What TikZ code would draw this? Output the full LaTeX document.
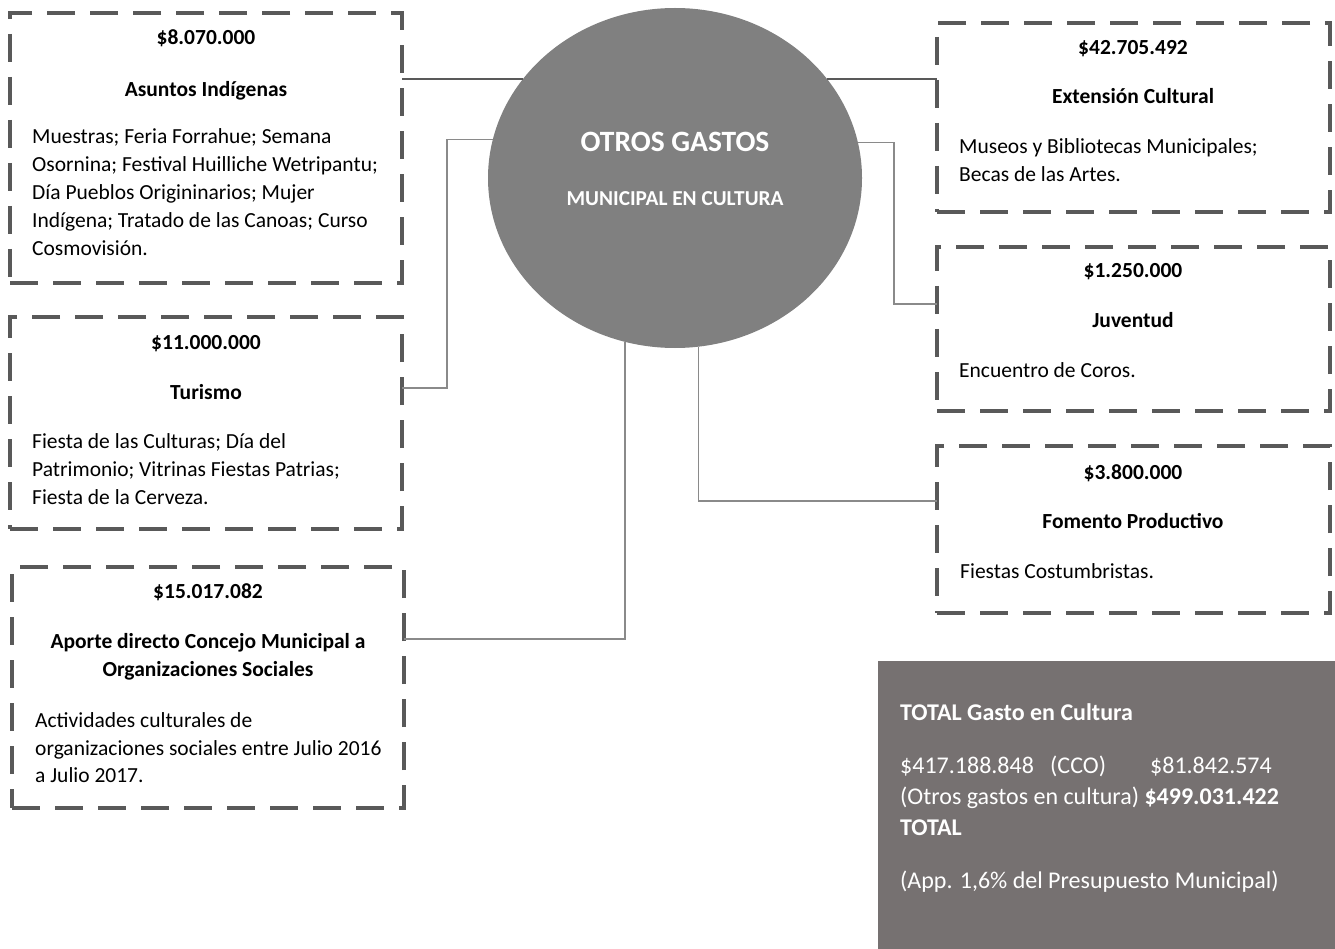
\documentclass[tikz,border=0pt]{standalone}
\usepackage{fontspec}
\setmainfont{Carlito}
\usetikzlibrary{shapes.geometric}
\definecolor{bordergray}{HTML}{595959}
\definecolor{circgray}{HTML}{808080}
\definecolor{totgray}{HTML}{767171}
\definecolor{thingray}{HTML}{8A8A8A}
\begin{document}
\begin{tikzpicture}[x=1pt,y=-1pt,
  dbox/.style={draw=bordergray, line width=3.2pt, dash pattern=on 28pt off 15pt, rectangle, inner sep=0pt, outer sep=0pt},
  ttl/.style={font=\fontsize{21.5}{28}\selectfont\bfseries, anchor=base, inner sep=0pt},
  body/.style={font=\fontsize{21.5}{28}\selectfont, anchor=base west, inner sep=0pt},
  tot/.style={font=\fontsize{24}{31}\selectfont, text=white, anchor=base west, inner sep=0pt},
  thick link/.style={draw=bordergray, line width=2pt},
  thin link/.style={draw=thingray, line width=1.3pt}]
\useasboundingbox (0,0) rectangle (1335,949);

% central ellipse
\node[ellipse, fill=circgray, minimum width=374pt, minimum height=340pt, inner sep=0pt, outer sep=0pt] (circ) at (675,178) {};
\node[font=\fontsize{29.5}{36}\selectfont\bfseries, text=white, anchor=base, inner sep=0pt] (ct1) at (675,152) {OTROS GASTOS};
\node[font=\fontsize{21.3}{26}\selectfont\bfseries, text=white, anchor=base, inner sep=0pt] (ct2) at (675,206) {MUNICIPAL EN CULTURA};

% boxes
\node[dbox, minimum width=392pt, minimum height=270pt] (b1) at (206,148) {};
\node[dbox, minimum width=392pt, minimum height=212pt] (b2) at (206,423) {};
\node[dbox, minimum width=392pt, minimum height=241pt] (b3) at (208,687.5) {};
\node[dbox, minimum width=393pt, minimum height=189pt] (b4) at (1133.5,117.5) {};
\node[dbox, minimum width=393pt, minimum height=164pt] (b5) at (1133.5,329) {};
\node[dbox, minimum width=393pt, minimum height=167pt] (b6) at (1133.5,529.5) {};

% box 1
\node[ttl] (b1t) at (206,45) {\$8.070.000};
\node[ttl] (b1s) at (206,97) {Asuntos Indígenas};
\node[body] (b1l1) at (32,144) {Muestras; Feria Forrahue; Semana};
\node[body] (b1l2) at (32,172) {Osornina; Festival Huilliche Wetripantu;};
\node[body] (b1l3) at (32,200) {Día Pueblos Origininarios; Mujer};
\node[body] (b1l4) at (32,228) {Indígena; Tratado de las Canoas; Curso};
\node[body] (b1l5) at (32,256) {Cosmovisión.};

% box 2
\node[ttl] (b2t) at (206,349) {\$11.000.000};
\node[ttl] (b2s) at (206,399) {Turismo};
\node[body] (b2l1) at (32,448) {Fiesta de las Culturas; Día del};
\node[body] (b2l2) at (32,476) {Patrimonio; Vitrinas Fiestas Patrias;};
\node[body] (b2l3) at (32,504) {Fiesta de la Cerveza.};

% box 3
\node[ttl] (b3t) at (208,598) {\$15.017.082};
\node[ttl] (b3s1) at (208,648) {Aporte directo Concejo Municipal a};
\node[ttl] (b3s2) at (208,676) {Organizaciones Sociales};
\node[body] (b3l1) at (35,727) {Actividades culturales de};
\node[body] (b3l2) at (35,755) {organizaciones sociales entre Julio 2016};
\node[body] (b3l3) at (35,782) {a Julio 2017.};

% box 4
\node[ttl] (b4t) at (1133,55) {\$42.705.492};
\node[ttl] (b4s) at (1133,104) {Extensión Cultural};
\node[body] (b4l1) at (959,154) {Museos y Bibliotecas Municipales;};
\node[body] (b4l2) at (959,182) {Becas de las Artes.};

% box 5
\node[ttl] (b5t) at (1133,278) {\$1.250.000};
\node[ttl] (b5s) at (1133,327) {Juventud};
\node[body] (b5l1) at (959,377) {Encuentro de Coros.};

% box 6
\node[ttl] (b6t) at (1133,479) {\$3.800.000};
\node[ttl] (b6s) at (1133,528) {Fomento Productivo};
\node[body] (b6l1) at (960,578) {Fiestas Costumbristas.};

% total box
\node[fill=totgray, inner sep=0pt, outer sep=0pt, minimum width=457pt, minimum height=288pt] (tot) at (1106.5,805) {};
\node[tot, font=\fontsize{24}{31}\selectfont\bfseries] (tl1) at (900,720) {TOTAL Gasto en Cultura};
\node[tot] (tl2) at (900,773) {\makebox[150pt][l]{\$417.188.848}\makebox[100pt][l]{(CCO)}\$81.842.574};
\node[tot] (tl3) at (900,804) {(Otros gastos en cultura) \textbf{\$499.031.422}};
\node[tot, font=\fontsize{24}{31}\selectfont\bfseries] (tl4) at (900,835) {TOTAL};
\node[tot] (tl5) at (900,888) {(App. 1,6\% del Presupuesto Municipal)};

% connectors
\coordinate (y2) at (447,388);
\coordinate (y3) at (0,639);
\coordinate (y5) at (894,304);
\coordinate (y6) at (0,501);
\draw[thick link] (circ.147.3) -- (circ.147.3 -| b1.east);
\draw[thin link] (circ.168.2) -| (y2) -- (y2 -| b2.east);
\draw[thin link] (circ.253) |- (y3 -| b3.east);
\draw[thick link] (circ.33.9) -- (circ.33.9 -| b4.west);
\draw[thin link] (circ.11.8) -| (y5) -- (y5 -| b5.west);
\draw[thin link] (circ.278.8) |- (y6 -| b6.west);
\end{tikzpicture}
\end{document}
